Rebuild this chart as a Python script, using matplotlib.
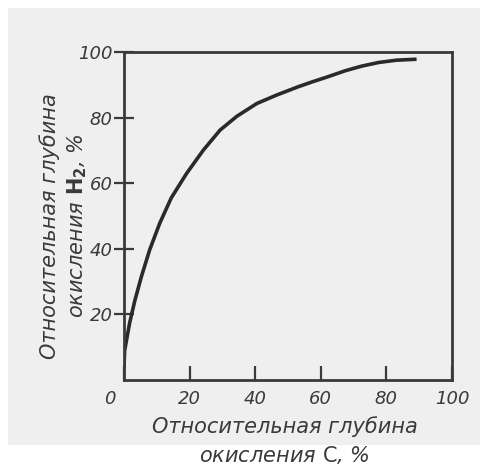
import matplotlib.pyplot as plt
import matplotlib.transforms as mtransforms
from matplotlib.patches import Rectangle

# values
depth_c = [0, 0.2, 1.7, 3.3, 5.3, 7.8, 10.9, 14.4, 19.1, 24.2, 29.3, 34.4, 40.5,
           46.6, 53.1, 57.4, 62, 67.5, 72.5, 77.6, 83, 89.2]
depth_h2 = [4, 9, 17.3, 24.2, 31.5, 39.6, 47.8, 55.5, 63, 70.1, 76.2, 80.4, 84.3,
            86.9, 89.4, 90.9, 92.4, 94.3, 95.7, 96.8, 97.5, 97.8]

x_ticks = [0, 20, 40, 60, 80, 100]
y_ticks = [20, 40, 60, 80, 100]

ink = '#3a3a3a'

fig = plt.figure(figsize=(5.04, 4.70), dpi=100, facecolor='white')
# scanned page area
fig.patches.append(Rectangle((8 / 504, 25 / 470), 472 / 504, 437 / 470,
                             transform=fig.transFigure, facecolor='#efefef',
                             edgecolor='none', zorder=-10))

ax = fig.add_axes([124 / 504, 1 - 380 / 470, 328 / 504, 328 / 470])
ax.set_facecolor('none')

ax.plot(depth_c, depth_h2, color='#2a2a2a', lw=2.6, solid_capstyle='butt')

ax.set_xlim(0, 100)
ax.set_ylim(0, 100)
ax.set_xticks(x_ticks)
ax.set_yticks(y_ticks)

tick_font = dict(family='DejaVu Sans', style='italic', size=13, color=ink)
label_font = dict(family='DejaVu Sans', style='italic', size=15, color=ink)
ax.set_xticklabels([str(v) for v in x_ticks], **tick_font)
ax.set_yticklabels([str(v) for v in y_ticks], **tick_font)
ax.tick_params(axis='x', direction='in', length=10, width=1.6, color=ink, pad=7)
ax.tick_params(axis='y', direction='inout', length=14, width=1.6, color=ink, pad=1)

# the "0" sits left of the corner in the original
zero = ax.get_xticklabels()[0]
zero.set_transform(zero.get_transform() + mtransforms.ScaledTranslation(-14 / 100, 0, fig.dpi_scale_trans))

for s in ax.spines.values():
    s.set_color(ink)
    s.set_linewidth(2)

ax.set_xlabel('Относительная глубина\nокисления $\\mathrm{C}$, %',
              linespacing=1.4, **label_font)
ax.set_ylabel('Относительная глубина\nокисления $\\mathbf{H_2}$, %',
              linespacing=1.3, **label_font)
ax.xaxis.set_label_coords(0.49, -0.11)
ax.yaxis.set_label_coords(-0.108, 0.47)

fig.savefig('out.png', dpi=100)
